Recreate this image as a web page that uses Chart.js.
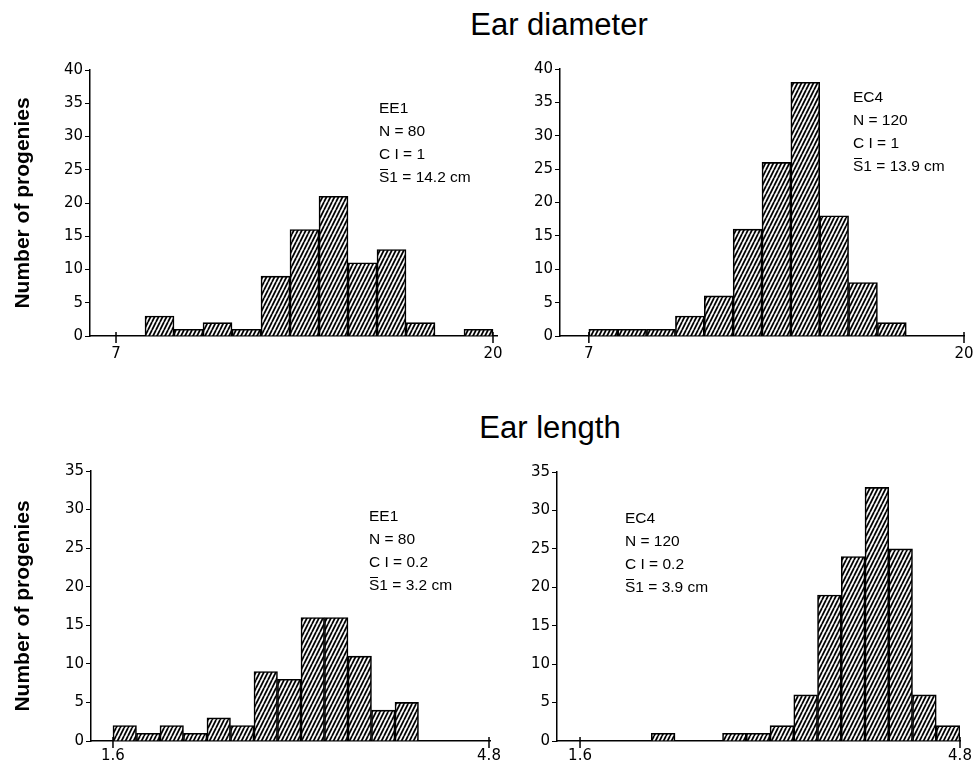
<!DOCTYPE html>
<html>
<head>
<meta charset="utf-8">
<script src="https://cdn.jsdelivr.net/npm/chart.js@4.4.1/dist/chart.umd.min.js"></script>
<style>
  body { margin: 0; width: 978px; height: 769px; background: #fff; position: relative; overflow: hidden;
         font-family: "Liberation Sans", Arial, sans-serif; color: #000; }
  .panel { position: absolute; }
  .title { position: absolute; font-size: 31px; line-height: 31px; white-space: nowrap; transform: translateX(-50%); }
  .note { position: absolute; font-size: 15.5px; line-height: 23px; white-space: nowrap; }
  .ov { position: relative; }
  .ov::before { content: ""; position: absolute; left: 1px; right: 1px; top: 1px; border-top: 1.2px solid #000; }
</style>
</head>
<body>
<div class="title" style="left:559px; top:9px;">Ear diameter</div>
<div class="title" style="left:550px; top:412px;">Ear length</div>

<div class="panel" style="left:0px; top:50px;"><canvas id="c1" width="520" height="320"></canvas></div>
<div class="panel" style="left:490px; top:50px;"><canvas id="c2" width="488" height="320"></canvas></div>
<div class="panel" style="left:0px; top:440px;"><canvas id="c3" width="520" height="329"></canvas></div>
<div class="panel" style="left:490px; top:440px;"><canvas id="c4" width="488" height="329"></canvas></div>

<div class="note" style="left:379px; top:96px;">EE1<br>N = 80<br>C I = 1<br><span class="ov">S</span>1 = 14.2 cm</div>
<div class="note" style="left:853px; top:85px;">EC4<br>N = 120<br>C I = 1<br><span class="ov">S</span>1 = 13.9 cm</div>
<div class="note" style="left:369px; top:504px;">EE1<br>N = 80<br>C I = 0.2<br><span class="ov">S</span>1 = 3.2 cm</div>
<div class="note" style="left:625px; top:506px;">EC4<br>N = 120<br>C I = 0.2<br><span class="ov">S</span>1 = 3.9 cm</div>

<script>
// ---- Data ----
const yAxisTitle = "Number of progenies";

const diameterBinWidth = 1;
const diameterTicks = [7, 20];
const diameterYMax = 40;
const diameterBins_EE1 = [8, 9, 10, 11, 12, 13, 14, 15, 16, 17, 18, 19];
const diameterCounts_EE1 = [3, 1, 2, 1, 9, 16, 21, 11, 13, 2, 0, 1];
const diameterBins_EC4 = [7, 8, 9, 10, 11, 12, 13, 14, 15, 16, 17];
const diameterCounts_EC4 = [1, 1, 1, 3, 6, 16, 26, 38, 18, 8, 2];

const lengthBinWidth = 0.2;
const lengthTicks = [1.6, 4.8];
const lengthYMax = 35;
const lengthBins_EE1 = [1.6, 1.8, 2.0, 2.2, 2.4, 2.6, 2.8, 3.0, 3.2, 3.4, 3.6, 3.8, 4.0];
const lengthCounts_EE1 = [2, 1, 2, 1, 3, 2, 9, 8, 16, 16, 11, 4, 5];
const lengthBins_EC4 = [1.6, 1.8, 2.0, 2.2, 2.4, 2.6, 2.8, 3.0, 3.2, 3.4, 3.6, 3.8, 4.0, 4.2, 4.4, 4.6];
const lengthCounts_EC4 = [0, 0, 0, 1, 0, 0, 1, 1, 2, 6, 19, 24, 33, 25, 6, 2];

// ---- Hatch pattern ----
function makeHatch() {
  const w = 4, h = 8;
  const c = document.createElement('canvas');
  c.width = w; c.height = h;
  const g = c.getContext('2d');
  g.fillStyle = '#fff'; g.fillRect(0, 0, w, h);
  g.strokeStyle = '#000'; g.lineWidth = 1.8;
  for (let k = -1; k <= 1; k++) {
    g.beginPath(); g.moveTo(k * w, h); g.lineTo(k * w + w, 0); g.stroke();
  }
  return g.createPattern(c, 'repeat');
}
const hatch = makeHatch();

const crossTicks = {
  id: 'crossTicks',
  afterDatasetsDraw(chart) {
    const xs = chart.scales.x, ctx = chart.ctx;
    ctx.save();
    ctx.strokeStyle = '#000'; ctx.lineWidth = 1.5;
    xs.ticks.forEach(t => {
      const px = xs.getPixelForValue(t.value);
      ctx.beginPath(); ctx.moveTo(px, xs.top - 4); ctx.lineTo(px, xs.top + 7); ctx.stroke();
    });
    ctx.restore();
  }
};

function makePanel(id, bins, counts, binW, xTicks, xMin, xMax, yMax, o) {
  const pts = bins.map((b, i) => ({ x: b + binW / 2, y: counts[i] }));
  new Chart(document.getElementById(id), {
    type: 'bar',
    data: { datasets: [{ data: pts, backgroundColor: hatch, borderColor: '#000', borderWidth: 1.6,
                         borderSkipped: 'start', barPercentage: 1, categoryPercentage: 1 }] },
    options: {
      responsive: false, animation: false, devicePixelRatio: 1,
      layout: { padding: { top: o.padTop, right: o.padRight, left: 0, bottom: 0 } },
      plugins: { legend: { display: false }, tooltip: { enabled: false } },
      scales: {
        x: {
          type: 'linear', offset: false, min: xMin, max: xMax,
          afterBuildTicks: s => { s.ticks = xTicks.map(v => ({ value: v })); },
          afterFit: s => { s.height = o.xHeight; },
          grid: { display: false, offset: false, drawTicks: true, tickLength: o.xTickLen },
          border: { display: true, color: '#000', width: 1.5 },
          ticks: { color: '#000', padding: o.xPad, maxRotation: 0, autoSkip: false,
                   font: { family: 'DejaVu Sans', size: 15 },
                   callback: v => String(v) }
        },
        y: {
          min: 0, max: yMax,
          afterFit: s => { s.width = o.yWidth; },
          grid: { display: true, drawOnChartArea: false, drawTicks: true, tickLength: 5, color: '#000', lineWidth: 1 },
          border: { display: true, color: '#000', width: 1.5 },
          ticks: { stepSize: 5, color: '#000', padding: 2, font: { family: 'DejaVu Sans', size: 15 } },
          title: { display: o.showTitle, text: yAxisTitle, color: '#000',
                   font: { family: 'Liberation Sans', size: 21, weight: 'bold' }, padding: { top: 11, bottom: 0 } }
        }
      }
    },
    plugins: [crossTicks]
  });
}

makePanel('c1', diameterBins_EE1, diameterCounts_EE1, diameterBinWidth, diameterTicks, 6.103, 20.138, diameterYMax,
  { padTop: 20, padRight: 23, xHeight: 34, yWidth: 90, xTickLen: 6, xPad: 3, showTitle: true });
makePanel('c2', diameterBins_EC4, diameterCounts_EC4, diameterBinWidth, diameterTicks, 6, 20, diameterYMax,
  { padTop: 19, padRight: 14, xHeight: 34, yWidth: 70, xTickLen: 6, xPad: 3, showTitle: false });
makePanel('c3', lengthBins_EE1, lengthCounts_EE1, lengthBinWidth, lengthTicks, 1.413, 4.8085, lengthYMax,
  { padTop: 31, padRight: 30, xHeight: 28, yWidth: 91, xTickLen: 4, xPad: 2, showTitle: true });
makePanel('c4', lengthBins_EC4, lengthCounts_EC4, lengthBinWidth, lengthTicks, 1.406, 4.8, lengthYMax,
  { padTop: 32, padRight: 18, xHeight: 28, yWidth: 67, xTickLen: 4, xPad: 2, showTitle: false });
</script>
</body>
</html>
